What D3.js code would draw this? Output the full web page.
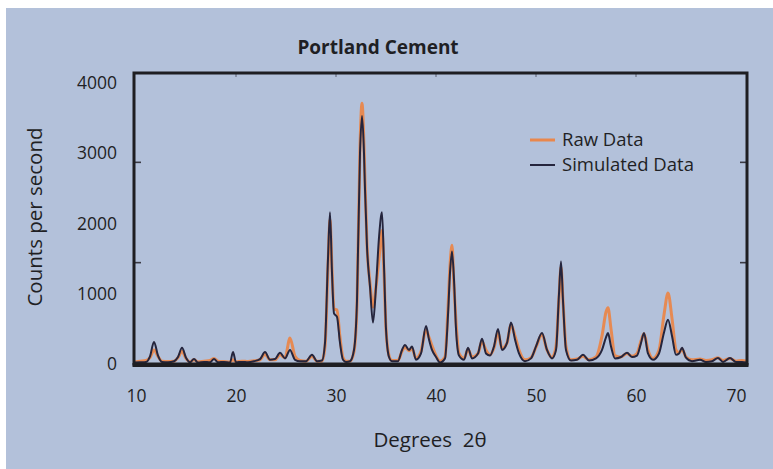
<!DOCTYPE html>
<html>
<head>
<meta charset="utf-8">
<script src="https://cdn.jsdelivr.net/npm/d3@7"></script>
<style>
  html, body { margin: 0; padding: 0; background: #ffffff; }
  svg { display: block; }
  text { font-family: "Open Sans", "Noto Sans", sans-serif; fill: #1f1f24; }
</style>
</head>
<body>
<div id="chart"></div>
<script>
// ---- data ----
const angles = [9.8,10.4,11.0,11.4,11.8,12.2,12.6,13.2,13.8,14.2,14.6,15.0,15.4,15.8,16.2,16.8,17.4,17.8,18.2,18.8,19.4,19.7,20.0,20.6,21.2,21.8,22.4,22.9,23.4,23.9,24.4,24.9,25.4,25.9,26.4,27.0,27.6,28.1,28.6,28.9,29.2,29.4,29.6,29.8,30.1,30.4,30.7,31.0,31.4,31.8,32.1,32.4,32.6,32.8,32.9,33.1,33.4,33.7,34.0,34.3,34.6,34.8,35.0,35.3,35.6,36.2,36.6,36.9,37.3,37.6,38.0,38.5,39.0,39.3,39.6,40.0,40.4,40.9,41.2,41.4,41.6,41.8,42.0,42.3,42.8,43.2,43.6,44.2,44.6,45.0,45.4,45.8,46.2,46.6,47.1,47.5,47.9,48.3,48.9,49.5,50.0,50.6,51.1,51.6,52.0,52.3,52.5,52.7,53.0,53.5,54.1,54.7,55.3,56.0,56.6,57.0,57.2,57.5,57.9,58.5,59.1,59.6,60.1,60.5,60.8,61.2,61.7,62.3,62.8,63.2,63.6,64.0,64.3,64.6,65.0,65.6,66.4,67.0,67.6,68.2,68.7,69.4,70.0,70.6,71.1];
const simCounts = [20,25,30,110,314,120,30,25,40,100,230,90,25,70,20,30,25,70,25,30,20,170,25,30,25,40,70,170,60,70,160,80,200,60,40,40,130,40,50,300,1500,2160,1300,720,670,300,60,30,40,200,900,3000,3530,3000,2490,1670,1100,590,1100,1800,2160,1400,500,100,40,40,200,270,200,250,60,150,540,350,200,100,20,80,700,1300,1600,1200,500,120,60,230,80,150,360,150,120,250,500,200,300,590,350,150,40,80,250,440,200,80,200,1000,1460,900,200,50,60,130,50,80,200,380,440,250,80,100,160,100,120,300,440,150,60,150,450,630,400,130,150,230,90,40,60,30,40,85,30,85,30,30,20];
const rawCounts = [30,40,50,90,200,110,40,35,40,90,180,80,30,60,30,40,50,80,40,35,30,60,30,40,35,45,60,140,60,60,130,90,370,110,50,40,110,40,40,250,1400,2050,1350,780,770,380,90,40,40,180,850,3100,3714,3100,2600,1700,1150,810,1100,1500,1900,1300,500,120,50,50,180,240,190,220,80,180,480,380,260,120,40,100,800,1400,1690,1100,600,150,80,210,100,150,320,200,130,230,450,220,300,560,400,200,60,90,240,420,200,90,250,950,1380,900,250,60,70,110,60,100,400,740,800,500,120,100,150,110,150,330,430,200,80,200,700,1010,650,200,160,210,100,60,70,50,60,90,50,80,40,50,40];
const xTickValues = [10, 20, 30, 40, 50, 60, 70];
const yTickValues = [0, 1000, 2000, 3000, 4000];
const innerYTicks = [1443, 2871];
const seriesNames = ["Raw Data", "Simulated Data"];
const title = "Portland Cement";
const xTitle = "Degrees  2\u03B8";
const yTitle = "Counts per second";

// ---- layout ----
const W = 773, H = 469;
const frame = { left: 134, right: 747, top: 73, bottom: 364 };
const colors = { raw: "#e9874c", sim: "#25253d", frame: "#1e1e22", bg: "#b3c1da" };

const svg = d3.select("#chart").append("svg").attr("width", W).attr("height", H);
svg.append("rect").attr("width", W).attr("height", H).attr("fill", "#ffffff");
svg.append("rect").attr("x", 6).attr("y", 8).attr("width", W - 6).attr("height", H - 8).attr("fill", colors.bg);

const x = d3.scaleLinear().domain([9.8, 71.1]).range([frame.left, frame.right]);
const y = d3.scaleLinear().domain([0, 4143]).range([frame.bottom, frame.top]);

// clip
svg.append("defs").append("clipPath").attr("id", "plotclip")
  .append("rect").attr("x", frame.left).attr("y", frame.top)
  .attr("width", frame.right - frame.left).attr("height", frame.bottom - frame.top);

const rawData = angles.map((a, i) => [a, rawCounts[i]]);
const simData = angles.map((a, i) => [a, simCounts[i]]);
const line = d3.line().x(d => x(d[0])).y(d => y(d[1])).curve(d3.curveMonotoneX);

const plot = svg.append("g").attr("clip-path", "url(#plotclip)");
plot.append("path").datum(rawData).attr("d", line)
  .attr("fill", "none").attr("stroke", colors.raw).attr("stroke-width", 3)
  .attr("stroke-linejoin", "round").attr("opacity", 0.95);
plot.append("path").datum(simData).attr("d", line)
  .attr("fill", "none").attr("stroke", colors.sim).attr("stroke-width", 2)
  .attr("stroke-linejoin", "round");

// inner tick marks
const tickG = svg.append("g").attr("stroke", "#3a3a44").attr("stroke-width", 1.6);
innerYTicks.forEach(v => {
  tickG.append("line").attr("x1", frame.left).attr("x2", frame.left + 7).attr("y1", y(v)).attr("y2", y(v));
  tickG.append("line").attr("x1", frame.right - 7).attr("x2", frame.right).attr("y1", y(v)).attr("y2", y(v));
});
xTickValues.slice(1, -1).forEach(v => {
  tickG.append("line").attr("x1", x(v)).attr("x2", x(v)).attr("y1", frame.top).attr("y2", frame.top + 4)
    .attr("stroke", "#6a7082").attr("stroke-width", 1.2);
});

// frame
svg.append("rect").attr("x", frame.left).attr("y", frame.top)
  .attr("width", frame.right - frame.left).attr("height", frame.bottom - frame.top)
  .attr("fill", "none").attr("stroke", colors.frame).attr("stroke-width", 3);
svg.append("line").attr("x1", frame.left - 1.5).attr("x2", frame.right + 1.5)
  .attr("y1", frame.bottom + 1).attr("y2", frame.bottom + 1)
  .attr("stroke", colors.frame).attr("stroke-width", 4);

// axes
const xAxis = svg.append("g").attr("transform", `translate(0,${frame.bottom})`)
  .call(d3.axisBottom(x).tickValues(xTickValues).tickSize(0).tickPadding(26).tickFormat(d3.format("d")));
xAxis.select(".domain").remove();
xAxis.selectAll("text").attr("font-size", 17.5).attr("fill", "#1f1f24")
  .style("font-family", '"Open Sans", sans-serif');

const yAxis = svg.append("g").attr("transform", `translate(${frame.left},0)`)
  .call(d3.axisLeft(y).tickValues(yTickValues).tickSize(0).tickPadding(17).tickFormat(d3.format("d")));
yAxis.select(".domain").remove();
yAxis.selectAll("text").attr("font-size", 17.5).attr("fill", "#1f1f24")
  .style("font-family", '"Open Sans", sans-serif');

// titles
svg.append("text").attr("x", 378).attr("y", 54).attr("text-anchor", "middle")
  .attr("font-size", 19).attr("font-weight", "bold").text(title);
svg.append("text").attr("x", 430).attr("y", 447).attr("text-anchor", "middle")
  .attr("font-size", 20.5).attr("xml:space", "preserve").style("white-space", "pre").text(xTitle);
svg.append("text").attr("transform", "translate(42,217) rotate(-90)").attr("text-anchor", "middle")
  .attr("font-size", 20.5).text(yTitle);

// legend
const legend = svg.append("g");
const legendRows = [
  { name: seriesNames[0], color: colors.raw, w: 3, yy: 140 },
  { name: seriesNames[1], color: colors.sim, w: 2, yy: 165 }
];
legendRows.forEach(r => {
  legend.append("line").attr("x1", 530).attr("x2", 555).attr("y1", r.yy).attr("y2", r.yy)
    .attr("stroke", r.color).attr("stroke-width", r.w);
  legend.append("text").attr("x", 562).attr("y", r.yy).attr("dy", "0.35em")
    .attr("font-size", 18.5).text(r.name);
});
</script>
</body>
</html>
